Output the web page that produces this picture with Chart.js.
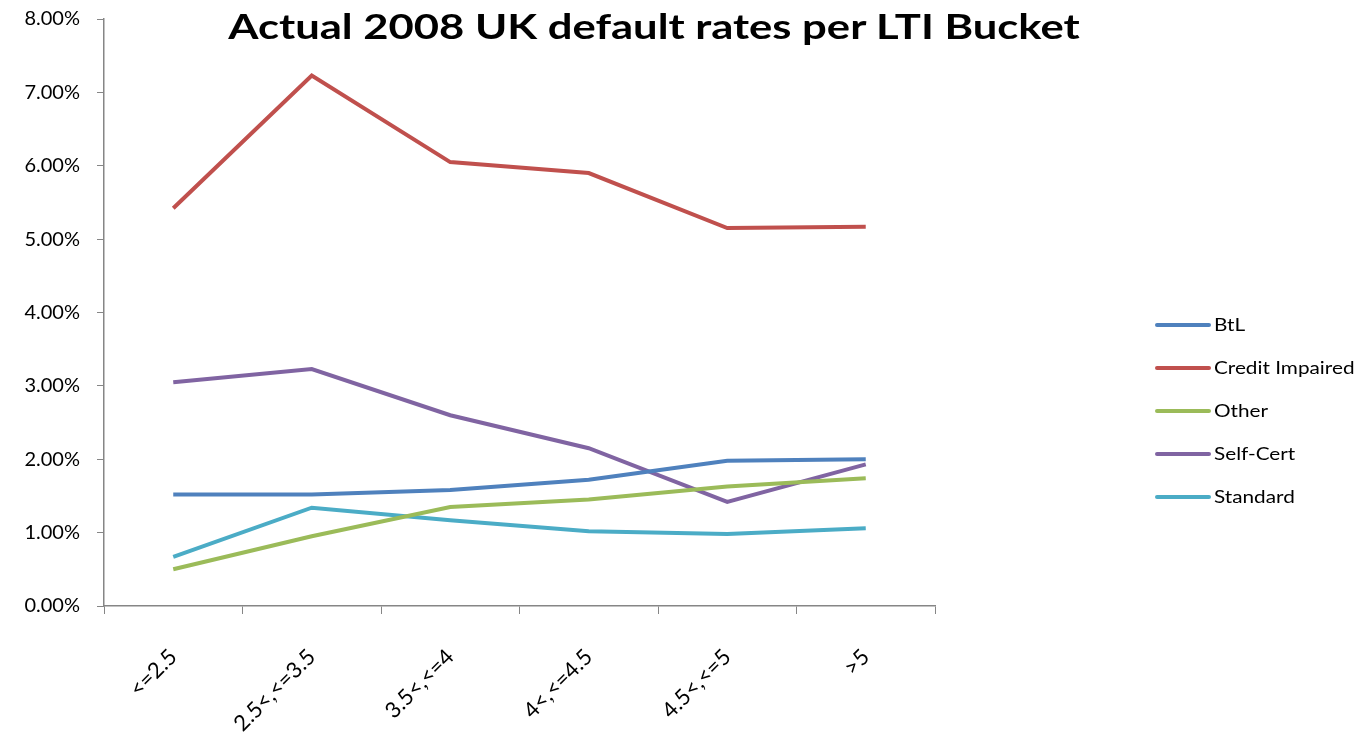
<!DOCTYPE html>
<html>
<head>
<meta charset="utf-8">
<title>Actual 2008 UK default rates per LTI Bucket</title>
<script src="https://cdn.jsdelivr.net/npm/chart.js@4.4.1/dist/chart.umd.min.js"></script>
<style>
  html, body { margin: 0; padding: 0; background: #fff; overflow: hidden; }
  #wrap { position: relative; width: 1363px; height: 733px; overflow: hidden; }
  #ltiChart { position: absolute; left: 0; top: -10px; }
  #title {
    position: absolute; left: 154px; width: 1000px; top: 4px;
    text-align: center; font: bold 35px Lato, sans-serif; color: #000;
    white-space: nowrap; transform: scaleX(1.245); transform-origin: 50% 50%;
  }
  #legend { position: absolute; left: 1155px; top: 303px; font: 17px Lato, sans-serif; color: #000; }
  #legend .item { height: 43px; display: flex; align-items: center; }
  #legend .swatch { width: 56px; height: 4px; margin-right: 3px; border-radius: 2px; }
  #legend .label { display: inline-block; transform: scaleX(1.22); transform-origin: 0 50%; white-space: nowrap; }
</style>
</head>
<body>
<div id="wrap">
  <canvas id="ltiChart" width="1363" height="743"></canvas>
  <div id="title">Actual 2008 UK default rates per LTI Bucket</div>
  <div id="legend"></div>
</div>
<script>
// LTI buckets along the x axis
const buckets = ['<=2.5', '2.5<,<=3.5', '3.5<,<=4', '4<,<=4.5', '4.5<,<=5', '>5'];

// default rates in percent, one array per mortgage type
const btl = [1.52, 1.52, 1.58, 1.72, 1.98, 2.00];
const creditImpaired = [5.42, 7.23, 6.05, 5.90, 5.15, 5.17];
const other = [0.50, 0.95, 1.35, 1.45, 1.63, 1.74];
const selfCert = [3.05, 3.23, 2.60, 2.15, 1.42, 1.93];
const standard = [0.67, 1.34, 1.17, 1.02, 0.98, 1.06];

const seriesNames = ['BtL', 'Credit Impaired', 'Other', 'Self-Cert', 'Standard'];
const seriesData = [btl, creditImpaired, other, selfCert, standard];
const seriesColors = ['#4F81BD', '#C0504D', '#9BBB59', '#8064A2', '#4BACC6'];

const axisColor = '#868686';

const datasets = seriesNames.map((name, i) => ({
    label: name,
    data: seriesData[i],
    borderColor: seriesColors[i],
    backgroundColor: seriesColors[i],
    borderWidth: 4,
    pointRadius: 0,
    tension: 0,
    fill: false
}));

new Chart(document.getElementById('ltiChart').getContext('2d'), {
    type: 'line',
    data: { labels: buckets, datasets: datasets },
    options: {
        responsive: false,
        animation: false,
        layout: { padding: { left: 0, right: 428, top: 0, bottom: 0 } },
        plugins: {
            legend: { display: false },
            title: { display: false },
            tooltip: { enabled: false }
        },
        scales: {
            x: {
                offset: true,
                grid: { offset: true, drawOnChartArea: false, drawTicks: true, tickLength: 8, color: axisColor },
                border: { display: true, color: axisColor, width: 1.5 },
                ticks: {
                    autoSkip: false, maxRotation: 45, minRotation: 45, padding: 30,
                    color: '#000', font: { family: 'Lato', size: 22 }
                },
                afterFit: scale => { scale.height = 127; }
            },
            y: {
                min: 0, max: 8,
                grid: { drawOnChartArea: false, drawTicks: true, tickLength: 7, color: axisColor },
                border: { display: true, color: axisColor, width: 1.5 },
                ticks: {
                    stepSize: 1, padding: 17, color: '#000',
                    font: { family: 'Lato', size: 20 },
                    callback: v => v.toFixed(2) + '%'
                },
                afterFit: scale => { scale.width = 104; }
            }
        }
    }
});

// legend built from the same series
const legend = document.getElementById('legend');
seriesNames.forEach((name, i) => {
    const item = document.createElement('div');
    item.className = 'item';
    const sw = document.createElement('span');
    sw.className = 'swatch';
    sw.style.background = seriesColors[i];
    const txt = document.createElement('span');
    txt.className = 'label';
    txt.textContent = name;
    item.appendChild(sw);
    item.appendChild(txt);
    legend.appendChild(item);
});
</script>
</body>
</html>
